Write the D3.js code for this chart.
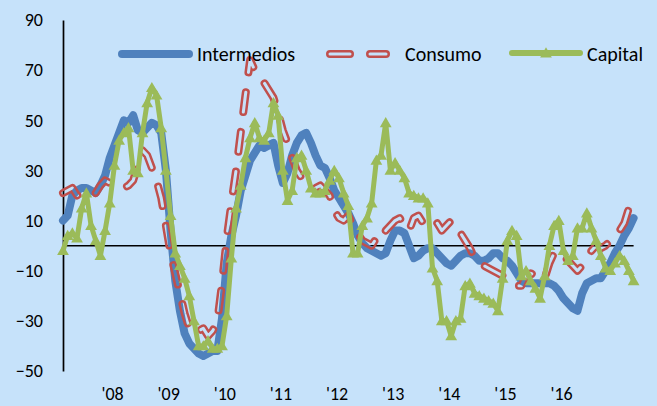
<!DOCTYPE html>
<html lang="es">
<head>
<meta charset="UTF-8">
<title>Intermedios, Consumo, Capital</title>
<script src="https://cdn.jsdelivr.net/npm/d3@7"></script>
<style>
  body { margin: 0; background: #c6e2fa; }
  svg { display: block; font-family: Carlito, Lato, sans-serif; }
</style>
</head>
<body>
<svg id="chart" width="657" height="406"></svg>
<script>
// monthly values, first point early 2007
const intermedios = [10,12,20,22,23,23,22,21,24,28, 35,40,45,50,49,52,46,45,47,49,
  48,45,30,6,-14,-26,-35,-39,-41,-43, -44,-43,-42,-42,-29,-7,4,12,22,28,
  34,37,40,39,40,41,32,25,29,36, 41,44,45,41,36,32,31,27,22,19,
  16,13,9,4,1,-1,-2,-3,-4,-3, 2,6,6,5,0,-5,-4,-2,-1,-1,
  -3,-5,-7,-8,-6,-4,-3,-3,-4,-6, -6,-5,-3,-3,-5,-6,-8,-11,-14,-15,
  -15,-15,-15,-15,-15,-16,-18,-21,-23,-25, -26,-19,-15,-14,-13,-13,-10,-7,-3,0,
  4,7,11];
const consumo = [21,22,23,20,21,21,20,21,24,26, 25,24,24,23,24,26,32,38,36,31,
  26,19,8,-3,-11,-19,-27,-33,-35,-34, -33,-36,-34,-30,-15,3,17,30,45,60,
  74,70,67,65,62,59,53,46,41,35, 30,27,25,24,23,24,22,20,14,11,
  10,12,8,5,2,1,0,3,2,6, 8,10,11,8,6,11,12,9,7,8,
  9,6,8,10,8,5,2,-1,-5,-7, -8,-9,-10,-11,-12,-13,-15,-16,-16,-12,
  -11,-12,-14,-13,-7,-3,-2,-4,-6,-8, -10,-8,-5,-2,0,-1,0,2,4,6,
  9,15,17];
const capital = [-2,4,5,3,15,21,8,2,-4,6, 17,32,42,45,47,30,29,45,57,63,
  60,47,30,12,-3,-8,-13,-20,-30,-40, -40,-38,-41,-41,-40,-28,-5,15,24,35,
  43,49,43,42,45,57,52,30,18,22, 35,36,30,23,21,21,22,26,30,27,
  21,16,-3,-3,8,11,17,34,36,49, 30,33,30,27,21,20,19,19,17,-9,
  -14,-30,-30,-36,-30,-29,-16,-15,-19,-20, -21,-22,-23,-26,-13,2,6,4,-12,-10,
  -14,-17,-21,-12,0,8,10,-2,-6,-4, 7,7,13,7,2,-4,-9,-10,-7,-4,
  -6,-10,-14];
const yearLabels = ["'08","'09","'10","'11","'12","'13","'14","'15","'16"];
const firstLabelIdx = 10.5; // month index where '08 sits
const yTicks = [-50,-30,-10,10,30,50,70,90];
const seriesNames = ["Intermedios","Consumo","Capital"];

const colBlue = "#4f81bd", colRed = "#c0504d", colGreen = "#9bbb59";

const svg = d3.select("#chart");
const W = 657, H = 406;
const n = intermedios.length;

const x = d3.scaleLinear().domain([0, n - 1]).range([63, 633.6]);
const y = d3.scaleLinear().domain([-50, 90]).range([371, 20]);

// y axis
const yAxis = svg.append("g")
    .attr("transform", "translate(63,0)")
    .call(d3.axisLeft(y).tickValues(yTicks).tickSize(0).tickPadding(20));
yAxis.select(".domain").attr("stroke", "#000").attr("stroke-width", 1.7);
yAxis.selectAll("text").attr("font-size", 18).attr("fill", "#000")
    .attr("font-family", "Carlito, Lato, sans-serif");

// zero line
svg.append("line")
    .attr("x1", x(0)).attr("x2", x(n - 1))
    .attr("y1", y(0)).attr("y2", y(0))
    .attr("stroke", "#000").attr("stroke-width", 1.5);

// x labels
const labelIdx = yearLabels.map((d, i) => firstLabelIdx + 12 * i);
const xAxis = svg.append("g")
    .attr("transform", "translate(0,371)")
    .call(d3.axisBottom(x).tickValues(labelIdx)
        .tickFormat((d, i) => yearLabels[i]).tickSize(0).tickPadding(16));
xAxis.select(".domain").remove();
xAxis.selectAll("text").attr("font-size", 18).attr("fill", "#000")
    .attr("font-family", "Carlito, Lato, sans-serif");

const line = d3.line().x((d, i) => x(i)).y(d => y(d)).curve(d3.curveLinear);

// Intermedios
svg.append("path").datum(intermedios)
    .attr("d", line).attr("fill", "none")
    .attr("stroke", colBlue).attr("stroke-width", 8)
    .attr("stroke-linejoin", "round").attr("stroke-linecap", "round");

// legend geometry
const legY = 54;
const legRed = d3.line()([[330, legY], [386, legY]]);

// Consumo: hollow dashes (outer red stroke, inner part cut out with a mask)
const dash = "20 20";
const mask = svg.append("defs").append("mask").attr("id", "hollow")
    .attr("maskUnits", "userSpaceOnUse")
    .attr("x", 0).attr("y", 0).attr("width", W).attr("height", H);
mask.append("rect").attr("width", W).attr("height", H).attr("fill", "#fff");
[line(consumo), legRed].forEach(d => {
  mask.append("path").attr("d", d).attr("fill", "none")
      .attr("stroke", "#000").attr("stroke-width", 3)
      .attr("stroke-dasharray", dash)
      .attr("stroke-linecap", "round").attr("stroke-linejoin", "round");
});
const redG = svg.append("g").attr("mask", "url(#hollow)");
[line(consumo), legRed].forEach(d => {
  redG.append("path").attr("d", d).attr("fill", "none")
      .attr("stroke", colRed).attr("stroke-width", 8)
      .attr("stroke-dasharray", dash)
      .attr("stroke-linecap", "round").attr("stroke-linejoin", "round");
});

// Capital
svg.append("path").datum(capital)
    .attr("d", line).attr("fill", "none")
    .attr("stroke", colGreen).attr("stroke-width", 5)
    .attr("stroke-linejoin", "round");
const tri = d3.symbol().type(d3.symbolTriangle).size(60);
svg.append("g").selectAll("path").data(capital).join("path")
    .attr("d", tri)
    .attr("transform", (d, i) => `translate(${x(i)},${y(d) + 1})`)
    .attr("fill", colGreen);

// legend
const leg = svg.append("g").attr("font-size", 20).attr("fill", "#000");
leg.append("line").attr("x1", 122).attr("x2", 189).attr("y1", legY).attr("y2", legY)
    .attr("stroke", colBlue).attr("stroke-width", 8).attr("stroke-linecap", "round");
leg.append("text").attr("x", 197).attr("y", legY + 7).text(seriesNames[0]);
leg.append("text").attr("x", 405).attr("y", legY + 7).text(seriesNames[1]);
leg.append("line").attr("x1", 512).attr("x2", 580).attr("y1", legY - 1).attr("y2", legY - 1)
    .attr("stroke", colGreen).attr("stroke-width", 6).attr("stroke-linecap", "round");
leg.append("path").attr("d", tri).attr("transform", `translate(546,${legY})`)
    .attr("fill", colGreen);
leg.append("text").attr("x", 587).attr("y", legY + 7).text(seriesNames[2]);
</script>
</body>
</html>
